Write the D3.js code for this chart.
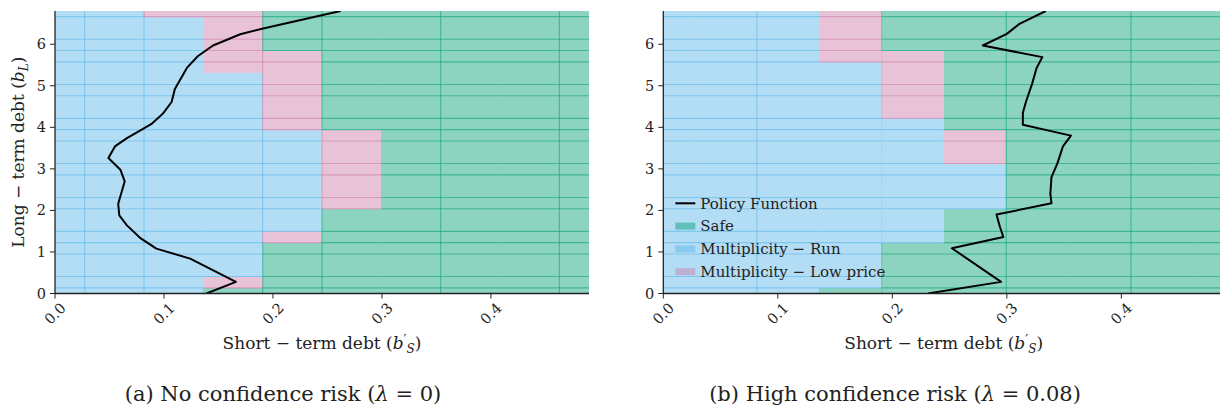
<!DOCTYPE html>
<html>
<head>
<meta charset="utf-8">
<script src="https://cdn.jsdelivr.net/npm/d3@7"></script>
<style>
  body { margin: 0; background: #fff; }
</style>
</head>
<body>
<svg id="fig" width="1220" height="418"></svg>
<script>
// grid of the state space (cell centres)
var bSGrid = [0, 0.0544, 0.1089, 0.1633, 0.2178, 0.2722, 0.3267, 0.3811, 0.4356, 0.49];
var bLGrid = [0, 0.272, 0.544, 0.816, 1.088, 1.36, 1.632, 1.904, 2.176, 2.448, 2.72, 2.992, 3.264,
              3.536, 3.808, 4.08, 4.352, 4.624, 4.896, 5.168, 5.44, 5.712, 5.984, 6.256, 6.528, 6.8];
var xTicks = [0, 0.1, 0.2, 0.3, 0.4];
var yTicks = [0, 1, 2, 3, 4, 5, 6];

var regimeKeys = ["S", "R", "L"];
var regimeNames = {S: "Safe", R: "Multiplicity \u2212 Run", L: "Multiplicity \u2212 Low price"};

// regime per b_S column, as runs going up in b_L (26 rows)
var regimesA = [
  [["R", 26]],
  [["R", 26]],
  [["R", 25], ["L", 1]],
  [["S", 1], ["L", 1], ["R", 18], ["L", 6]],
  [["S", 5], ["L", 1], ["R", 9], ["L", 7], ["S", 4]],
  [["S", 8], ["L", 7], ["S", 11]],
  [["S", 26]],
  [["S", 26]],
  [["S", 26]],
  [["S", 26]]
];
var regimesB = [
  [["R", 26]],
  [["R", 26]],
  [["R", 26]],
  [["S", 1], ["R", 20], ["L", 5]],
  [["S", 5], ["R", 11], ["L", 6], ["S", 4]],
  [["S", 8], ["R", 4], ["L", 3], ["S", 11]],
  [["S", 26]],
  [["S", 26]],
  [["S", 26]],
  [["S", 26]]
];

// policy function b_S'(b_L): [b_L, b_S']
var policyA = [[0, 0.139], [0.28, 0.166], [0.84, 0.124], [1.08, 0.093], [1.34, 0.078], [1.64, 0.066],
  [1.88, 0.059], [2.16, 0.058], [2.70, 0.064], [2.98, 0.060], [3.26, 0.049], [3.54, 0.055],
  [3.74, 0.066], [3.92, 0.078], [4.09, 0.089], [4.33, 0.099], [4.61, 0.107], [4.92, 0.110],
  [5.43, 0.121], [5.71, 0.131], [5.97, 0.145], [6.24, 0.170], [6.38, 0.191], [6.8, 0.262]];
var policyB = [[0, 0.231], [0.28, 0.295], [1.09, 0.252], [1.36, 0.297], [1.60, 0.294], [1.90, 0.291],
  [2.17, 0.339], [2.40, 0.338], [2.80, 0.339], [3.12, 0.344], [3.54, 0.349], [3.80, 0.356],
  [4.06, 0.314], [4.35, 0.314], [4.64, 0.317], [5.04, 0.322], [5.43, 0.326], [5.69, 0.331],
  [5.97, 0.279], [6.25, 0.300], [6.49, 0.311], [6.8, 0.334]];

var colors = {S: "#009e73", R: "#56b4e9", L: "#cc79a7"};
var fillAlpha = 0.45;
var ink = "#222";
var serif = "DejaVu Serif";

var panels = [
  {id: "a", x0: 55, x1: 589, regimes: regimesA, policy: policyA, colSeams: [0, 1, 3, 4, 6, 8],
   ylabel: true, legend: false, caption: "(a) No confidence risk (", capVal: " = 0)", capX: 283},
  {id: "b", x0: 663.3, x1: 1224.4, regimes: regimesB, policy: policyB, colSeams: [1, 3, 5, 7],
   ylabel: false, legend: true, caption: "(b) High confidence risk (", capVal: " = 0.08)", capX: 895}
];
var rowGaps = [2, 6, 9, 12, 16, 19, 23];
var yTop = 11, yBot = 293.5;

var svg = d3.select("#fig");
var defs = svg.append("defs");

function expandRuns(runs) {
  var out = [];
  runs.forEach(function(r) { for (var k = 0; k < r[1]; k++) out.push(r[0]); });
  return out;
}

function addText(sel) {
  return sel.append("text").style("font-family", serif).attr("fill", ink);
}

panels.forEach(function(p) {
  var x = d3.scaleLinear().domain([0, 0.49]).range([p.x0, p.x1]);
  var y = d3.scaleLinear().domain([0, 6.8]).range([yBot, yTop]);
  var hs = (bSGrid[1] - bSGrid[0]) / 2, hl = (bLGrid[1] - bLGrid[0]) / 2;
  var clamp = function(v, lo, hi) { return Math.max(lo, Math.min(hi, v)); };

  defs.append("clipPath").attr("id", "clip-" + p.id)
    .append("rect").attr("x", p.x0).attr("y", yTop).attr("width", p.x1 - p.x0).attr("height", yBot - yTop);

  var g = svg.append("g").attr("clip-path", "url(#clip-" + p.id + ")");

  var cells = [];
  var grid = p.regimes.map(expandRuns);
  grid.forEach(function(col, j) {
    col.forEach(function(code, i) {
      cells.push({j: j, i: i, code: code,
        sx0: clamp(bSGrid[j] - hs, 0, 0.49), sx1: clamp(bSGrid[j] + hs, 0, 0.49),
        ly0: clamp(bLGrid[i] - hl, 0, 6.8), ly1: clamp(bLGrid[i] + hl, 0, 6.8)});
    });
  });

  g.selectAll("rect.cell").data(cells).enter().append("rect")
    .attr("class", "cell")
    .attr("x", function(d) { return x(d.sx0); })
    .attr("y", function(d) { return y(d.ly1); })
    .attr("width", function(d) { return x(d.sx1) - x(d.sx0); })
    .attr("height", function(d) { return y(d.ly0) - y(d.ly1); })
    .attr("fill", function(d) { return colors[d.code]; })
    .attr("fill-opacity", fillAlpha)
    .attr("shape-rendering", "crispEdges");

  // seams where neighbouring cells overlap
  var seams = [];
  cells.forEach(function(d) {
    if (d.i > 0 && rowGaps.indexOf(d.i - 1) < 0) {
      seams.push({x1: x(d.sx0), x2: x(d.sx1), y1: y(d.ly0), y2: y(d.ly0), code: d.code});
    }
    if (d.j > 0 && p.colSeams.indexOf(d.j - 1) >= 0) {
      seams.push({x1: x(d.sx0), x2: x(d.sx0), y1: y(d.ly0), y2: y(d.ly1), code: d.code});
    }
  });
  g.selectAll("line.seam").data(seams).enter().append("line")
    .attr("class", "seam")
    .attr("x1", function(d) { return d.x1; })
    .attr("x2", function(d) { return d.x2; })
    .attr("y1", function(d) { return d.y1; })
    .attr("y2", function(d) { return d.y2; })
    .attr("stroke", function(d) { return colors[d.code]; })
    .attr("stroke-opacity", 0.55)
    .attr("stroke-width", 1.1);

  // policy function
  var line = d3.line().x(function(d) { return x(d[1]); }).y(function(d) { return y(d[0]); });
  g.append("path").datum(p.policy)
    .attr("d", line)
    .attr("fill", "none")
    .attr("stroke", "#000")
    .attr("stroke-width", 2)
    .attr("stroke-linejoin", "round");

  // spines
  svg.append("line").attr("x1", p.x0).attr("x2", p.x0).attr("y1", yTop).attr("y2", yBot)
    .attr("stroke", ink).attr("stroke-width", 1.3);
  svg.append("line").attr("x1", p.x0).attr("x2", p.x1).attr("y1", yBot).attr("y2", yBot)
    .attr("stroke", ink).attr("stroke-width", 1.3);

  // x ticks
  var xt = svg.append("g").selectAll("g").data(xTicks).enter().append("g");
  xt.append("line")
    .attr("x1", function(d) { return x(d); }).attr("x2", function(d) { return x(d); })
    .attr("y1", yBot).attr("y2", yBot + 5)
    .attr("stroke", ink).attr("stroke-width", 1);
  addText(xt)
    .attr("transform", function(d) { return "translate(" + x(d) + "," + (yBot + 20) + ") rotate(-45)"; })
    .attr("text-anchor", "middle")
    .attr("dy", "0.35em")
    .style("font-size", "14.5px")
    .text(function(d) { return d3.format(".1f")(d); });

  // y ticks
  var yt = svg.append("g").selectAll("g").data(yTicks).enter().append("g");
  yt.append("line")
    .attr("x1", p.x0 - 5).attr("x2", p.x0)
    .attr("y1", function(d) { return y(d); }).attr("y2", function(d) { return y(d); })
    .attr("stroke", ink).attr("stroke-width", 1);
  addText(yt)
    .attr("x", p.x0 - 9)
    .attr("y", function(d) { return y(d); })
    .attr("text-anchor", "end")
    .attr("dy", "0.35em")
    .style("font-size", "14.5px")
    .text(function(d) { return d; });

  // x label
  var xl = addText(svg)
    .attr("x", (p.x0 + Math.min(p.x1, 1224)) / 2)
    .attr("y", 349)
    .attr("text-anchor", "middle")
    .style("font-size", "17px");
  xl.append("tspan").text("Short \u2212 term debt (");
  xl.append("tspan").style("font-style", "italic").text("b");
  xl.append("tspan").attr("dy", -5).style("font-size", "13px").text("\u2032");
  xl.append("tspan").attr("dy", 9).style("font-size", "12px").style("font-style", "italic").text("S");
  xl.append("tspan").attr("dy", -4).text(")");

  if (p.ylabel) {
    var yl = addText(svg)
      .attr("transform", "translate(24," + ((yTop + yBot) / 2) + ") rotate(-90)")
      .attr("text-anchor", "middle")
      .style("font-size", "17px");
    yl.append("tspan").text("Long \u2212 term debt (");
    yl.append("tspan").style("font-style", "italic").text("b");
    yl.append("tspan").attr("dy", 4).style("font-size", "12px").style("font-style", "italic").text("L");
    yl.append("tspan").attr("dy", -4).text(")");
  }

  if (p.legend) {
    var lx = p.x0 + 12, ly = 203.3, step = 22.8;
    var lg = svg.append("g");
    lg.append("line").attr("x1", lx).attr("x2", lx + 20).attr("y1", ly).attr("y2", ly)
      .attr("stroke", "#000").attr("stroke-width", 2);
    addText(lg).attr("x", lx + 25).attr("y", ly).attr("dy", "0.35em")
      .style("font-size", "15px").text("Policy Function");
    var items = lg.selectAll("g.item").data(regimeKeys).enter().append("g").attr("class", "item")
      .attr("transform", function(d, k) { return "translate(" + lx + "," + (ly + step * (k + 1)) + ")"; });
    items.append("rect").attr("x", 0).attr("y", -3.5).attr("width", 20).attr("height", 7)
      .attr("fill", function(d) { return colors[d]; }).attr("fill-opacity", fillAlpha);
    addText(items).attr("x", 25).attr("dy", "0.35em")
      .style("font-size", "15px")
      .text(function(d) { return regimeNames[d]; });
  }

  // caption
  var cap = addText(svg)
    .attr("x", p.capX).attr("y", 401)
    .attr("text-anchor", "middle")
    .style("font-size", "21px");
  cap.append("tspan").text(p.caption);
  cap.append("tspan").style("font-style", "italic").text("\u03bb");
  cap.append("tspan").text(p.capVal);
});
</script>
</body>
</html>
